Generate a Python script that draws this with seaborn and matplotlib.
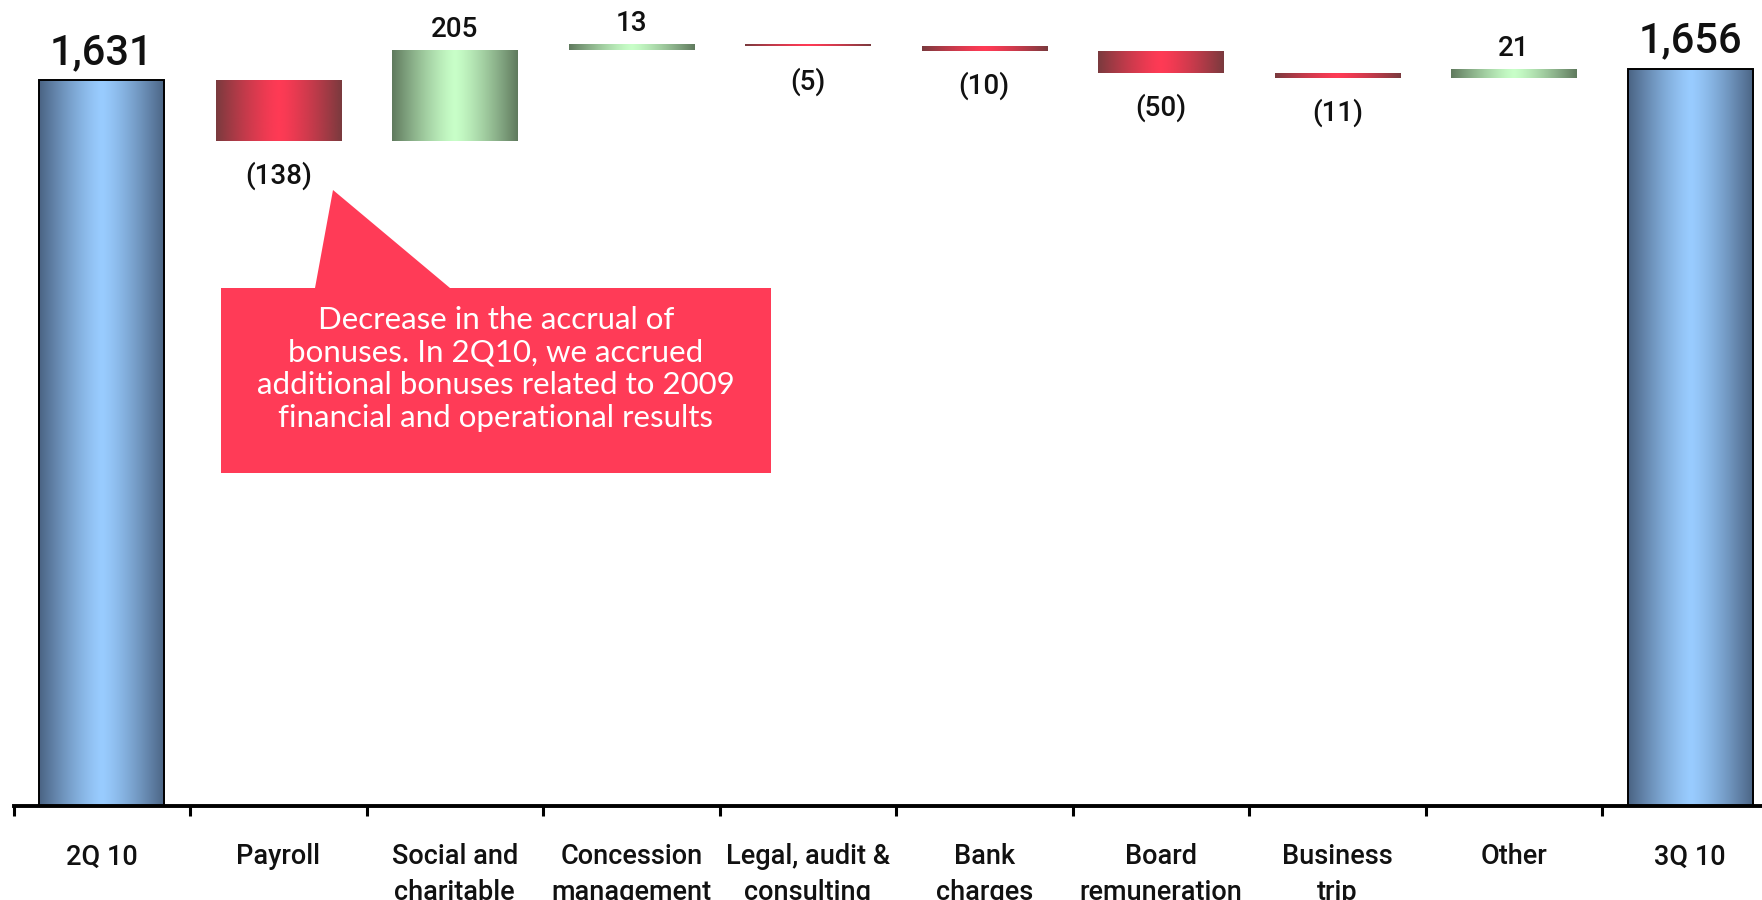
import numpy as np
import matplotlib
matplotlib.use("Agg")
import matplotlib.pyplot as plt
import seaborn as sns
from matplotlib.patches import Polygon

# Opex bridge, 2Q 10 -> 3Q 10
categories = ["2Q 10", "Payroll", "Social and\ncharitable", "Concession\nmanagement",
              "Legal, audit &\nconsulting", "Bank\ncharges", "Board\nremuneration",
              "Business\ntrip", "Other", "3Q 10"]
opening = 1631
changes = [-138, 205, 13, -5, -10, -50, -11, 21]
closing = 1656

note = ("Decrease in the accrual of\nbonuses. In 2Q10, we accrued\n"
        "additional bonuses related to 2009\nfinancial and operational results")

# waterfall geometry derived from the values
levels = opening + np.cumsum(changes)
starts = np.concatenate([[opening], levels[:-1]])
heights = [opening] + list(changes) + [closing]
bottoms = [0] + list(starts) + [0]
kinds = ["total"] + ["inc" if c > 0 else "dec" for c in changes] + ["total"]

sns.set_theme(style="white")
plt.rcParams["font.family"] = ["Roboto", "Liberation Sans", "DejaVu Sans"]

W, H = 1762, 900
fig = plt.figure(figsize=(W / 100, H / 100), dpi=100)
ax = fig.add_axes([13.5 / W, 94 / H, 1765 / W, 806 / H])

sns.barplot(x=categories, y=heights, order=categories, bottom=bottoms, width=0.71,
            errorbar=None, color="white", saturation=1, linewidth=0, ax=ax)

# horizontal "cylinder" shading for each bar
shades = {
    "total": ("#4a6383", "#99ccff"),
    "dec": ("#7a3a3e", "#ff3a55"),
    "inc": ("#607a5e", "#c8ffc8"),
}
t = np.linspace(-1, 1, 256)
prof = 1 - np.abs(t) ** 1.3
for patch, kind in zip(ax.patches, kinds):
    edge, center = (np.array(matplotlib.colors.to_rgb(c)) for c in shades[kind])
    img = edge[None, :] + (center - edge)[None, :] * prof[:, None]
    img = img[None, :, :]
    x0, w = patch.get_x(), patch.get_width()
    y0, h = patch.get_y(), patch.get_height()
    im = ax.imshow(img, extent=[x0, x0 + w, min(y0, y0 + h), max(y0, y0 + h)],
                   aspect="auto", interpolation="bilinear", zorder=2)
    im.set_clip_path(patch)
    patch.set_facecolor("none")
    patch.set_zorder(3)
    if kind == "total":
        patch.set_edgecolor("black")
        patch.set_linewidth(1.4)
    else:
        patch.set_edgecolor("none")

ax.set_xlim(-0.5, len(categories) - 0.5)
ax.set_ylim(0, 1810)

# value labels
lab_kw = dict(textcoords="offset points", ha="center", fontweight="medium", color="#111111")
for i, (kind, h, b) in enumerate(zip(kinds, heights, bottoms)):
    if kind == "total":
        ax.annotate(f"{h:,}", (i, h), xytext=(0, 5), va="bottom", fontsize=30, **lab_kw)
    elif kind == "inc":
        ax.annotate(f"{h:,}", (i, b + h), xytext=(0, 5), va="bottom", fontsize=20, **lab_kw)
    else:
        ax.annotate(f"({abs(h):,})", (i, b + h), xytext=(0, -15), va="top", fontsize=20, **lab_kw)

# axis styling
for s in ["top", "left", "right"]:
    ax.spines[s].set_visible(False)
ax.spines["bottom"].set_linewidth(2.8)
ax.spines["bottom"].set_color("black")
ax.set_yticks([])
ax.set_xlabel("")
ax.set_ylabel("")
ax.set_xticks(np.arange(-0.5, len(categories), 1), minor=True)
ax.tick_params(axis="x", which="minor", bottom=True, length=7, width=2.2,
               color="black", direction="out")
ax.tick_params(axis="x", which="major", bottom=False, length=0, pad=27)
for lab in ax.get_xticklabels():
    lab.set_fontsize(19.5)
    lab.set_fontweight("medium")
    lab.set_color("#111111")
    lab.set_linespacing(1.4)

# callout
def px(x, y):
    return (x / W, 1 - y / H)

shape = [px(221, 288), px(315, 288), px(333, 190), px(450, 288),
         px(771, 288), px(771, 473), px(221, 473)]
fig.patches.append(Polygon(shape, closed=True, transform=fig.transFigure,
                           facecolor="#ff3b57", edgecolor="none", zorder=5))
fig.text(496 / W, 1 - 369 / H, note, ha="center", va="center", color="white",
         fontsize=22.5, family=["Lato", "DejaVu Sans"], linespacing=1.2, zorder=6)

fig.savefig("out.png", dpi=100)
